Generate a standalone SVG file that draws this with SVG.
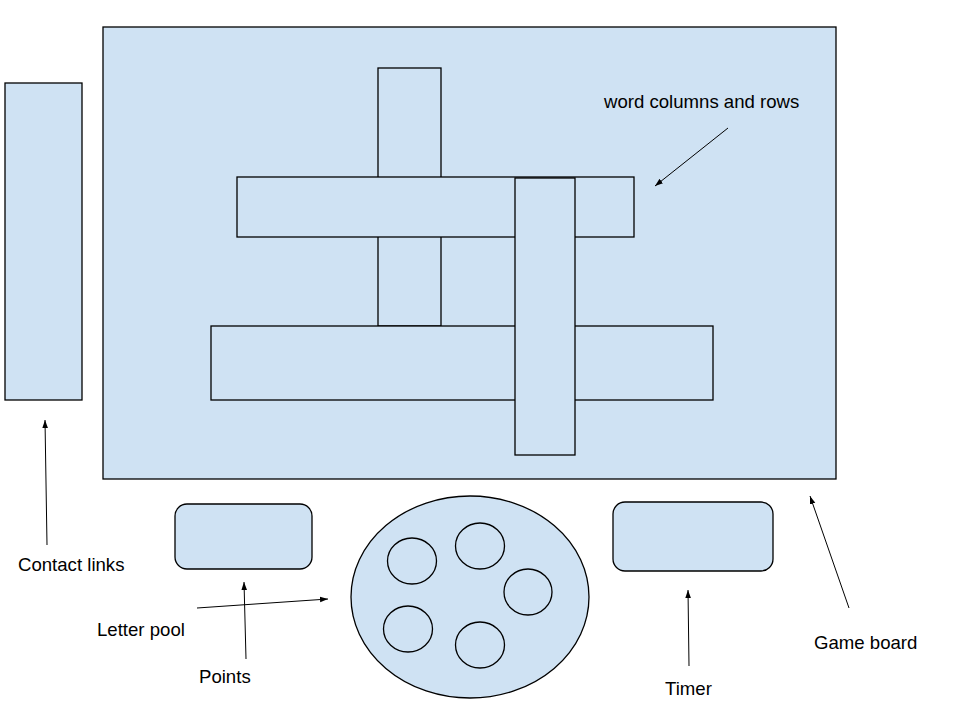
<svg xmlns="http://www.w3.org/2000/svg" width="960" height="720" viewBox="0 0 960 720">
<style>
.s{fill:#cfe2f3;stroke:#000;stroke-width:1.3}
.c{fill:none;stroke:#000;stroke-width:1.3}
.t{font-family:"Liberation Sans",Arial,sans-serif;font-size:18.6px;fill:#000}
.a{stroke:#000;stroke-width:1;fill:none;marker-end:url(#ah)}
</style>
<defs>
<marker id="ah" viewBox="0 0 10 10" refX="10" refY="5" markerWidth="8" markerHeight="8" markerUnits="userSpaceOnUse" orient="auto">
<path d="M0,1.5 L10,5 L0,8.5 z" fill="#000"/>
</marker>
</defs>
<rect width="960" height="720" fill="#fff"/>
<g id="game-board"><rect class="s" x="103" y="27" width="733" height="452"/></g>
<g id="contact-links-box"><rect class="s" x="5" y="83" width="77" height="317"/></g>
<g id="word-column-1"><rect class="s" x="378" y="68" width="63" height="258"/></g>
<g id="word-row-1"><rect class="s" x="237" y="177" width="397" height="60"/></g>
<g id="word-row-2"><rect class="s" x="211" y="326" width="502" height="74"/></g>
<g id="word-column-2"><rect class="s" x="515" y="178" width="60" height="277"/></g>
<g id="points-box"><rect class="s" x="175" y="504" width="137" height="65" rx="12"/></g>
<g id="timer-box"><rect class="s" x="613" y="502" width="160" height="69" rx="12"/></g>
<g id="letter-pool">
<ellipse class="s" cx="470" cy="597" rx="119" ry="101"/>
<ellipse class="c" cx="412" cy="561" rx="24.5" ry="23"/>
<ellipse class="c" cx="480" cy="546" rx="24.5" ry="23"/>
<ellipse class="c" cx="528" cy="592" rx="24" ry="23"/>
<ellipse class="c" cx="408" cy="629" rx="24.5" ry="23"/>
<ellipse class="c" cx="480" cy="645" rx="24.5" ry="23"/>
</g>
<g id="connectors">
<line class="a" x1="728" y1="128" x2="655" y2="186"/>
<line class="a" x1="47" y1="545" x2="45" y2="420"/>
<line class="a" x1="197" y1="608" x2="328" y2="599"/>
<line class="a" x1="246" y1="659" x2="244" y2="582"/>
<line class="a" x1="689" y1="666" x2="688" y2="590"/>
<line class="a" x1="849" y1="608" x2="810" y2="496"/>
</g>
<g id="labels">
<text class="t" x="604" y="108">word columns and rows</text>
<text class="t" x="18" y="571">Contact links</text>
<text class="t" x="97" y="636">Letter pool</text>
<text class="t" x="199" y="683">Points</text>
<text class="t" x="665" y="695">Timer</text>
<text class="t" x="814" y="649">Game board</text>
</g>
</svg>
